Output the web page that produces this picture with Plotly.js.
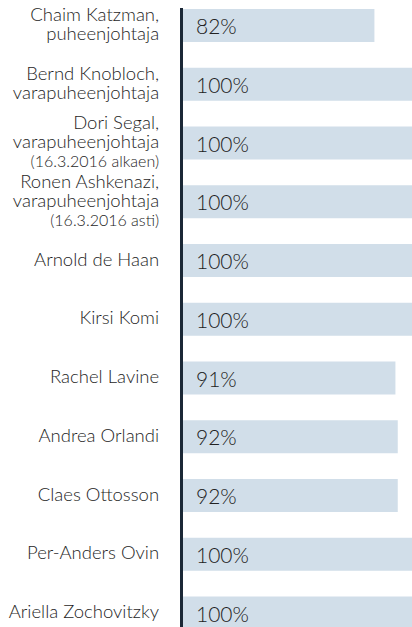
<!DOCTYPE html>
<html>
<head>
<meta charset="utf-8">
<script src="https://cdn.plot.ly/plotly-3.0.1.min.js"></script>
<style>html,body{margin:0;padding:0;background:#fff;}#chart{width:412px;height:627px;}</style>
</head>
<body>
<div id="chart"></div>
<script>
// Data
var nameLines = [
  ["Chaim Katzman,", "puheenjohtaja"],
  ["Bernd Knobloch,", "varapuheenjohtaja"],
  ["Dori Segal,", "varapuheenjohtaja", "(16.3.2016 alkaen)"],
  ["Ronen Ashkenazi,", "varapuheenjohtaja", "(16.3.2016 asti)"],
  ["Arnold de Haan"],
  ["Kirsi Komi"],
  ["Rachel Lavine"],
  ["Andrea Orlandi"],
  ["Claes Ottosson"],
  ["Per-Anders Ovin"],
  ["Ariella Zochovitzky"]
];
var attendance = [82, 100, 100, 100, 100, 100, 91, 92, 92, 100, 100];

var categories = nameLines.map(function (l) { return l.join(" "); });
var tickText = nameLines.map(function (lines) {
  return lines.map(function (t, i) {
    var size = i === 2 ? 16 : 18.5;
    return "<span style='font-size:" + size + "px'>" + t + "</span>";
  }).join("<br>");
});
var valueText = attendance.map(function (v) { return v + "%"; });

var trace = {
  type: "bar",
  orientation: "h",
  x: attendance,
  y: categories,
  width: 0.56,
  marker: { color: "#d1dee9" },
  hoverinfo: "none"
};

var annotations = categories.map(function (c, i) {
  return {
    x: 0, y: c, xref: "x", yref: "y",
    text: valueText[i],
    showarrow: false,
    xanchor: "left", yanchor: "middle",
    xshift: 11,
    font: { family: "Lato, sans-serif", size: 21, color: "#222222", weight: 300 }
  };
});

var layout = {
  width: 412, height: 627,
  margin: { l: 183, r: 0, t: 8, b: 0, pad: 0 },
  paper_bgcolor: "#fff", plot_bgcolor: "#fff",
  showlegend: false,
  bargap: 0.44,
  xaxis: {
    range: [0, 98.1],
    showgrid: false, zeroline: false, showline: false,
    showticklabels: false, ticks: "", fixedrange: true
  },
  yaxis: {
    type: "category",
    range: [10.238, -0.298],
    tickmode: "array",
    tickvals: categories,
    ticktext: tickText,
    showgrid: false, zeroline: false,
    showline: true, linecolor: "#1b2836", linewidth: 3,
    ticks: "outside", ticklen: 18, tickcolor: "rgba(0,0,0,0)",
    tickfont: { family: "Lato, sans-serif", size: 14.5, color: "#1e1e1e", weight: 300 },
    fixedrange: true
  },
  annotations: annotations
};

Plotly.newPlot("chart", [trace], layout, { displayModeBar: false, staticPlot: true });
</script>
</body>
</html>
